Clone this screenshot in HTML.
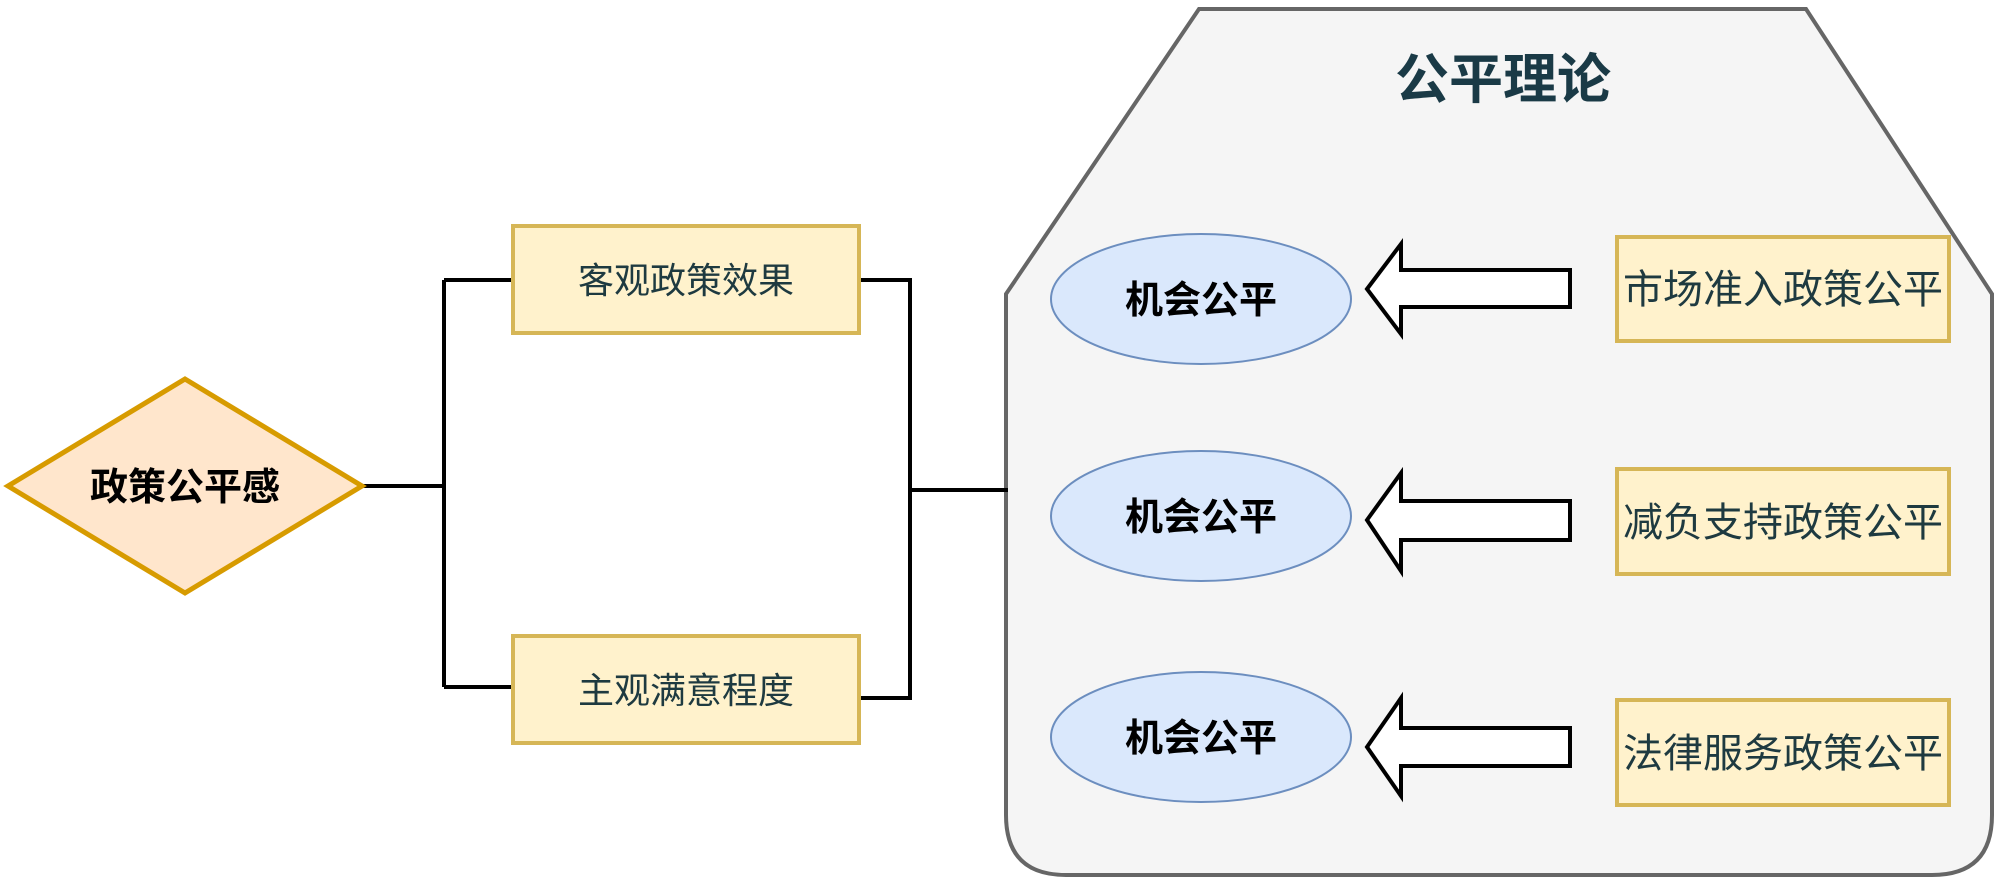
<!DOCTYPE html>
<html><head><meta charset="utf-8"><style>
html,body{margin:0;padding:0;background:#fff;}
svg{display:block;}
text{font-family:"Liberation Sans","Noto Sans CJK SC",sans-serif;}
</style></head><body>
<svg width="2000" height="880" viewBox="0 0 2000 880" xmlns="http://www.w3.org/2000/svg">
<path d="M1199,9 L1806,9 L1992,294 L1992,815 Q1992,875 1932,875 L1066,875 Q1006,875 1006,815 L1006,294 Z" fill="#f5f5f5" stroke="#666" stroke-width="4"/>
<text x="1503" y="98" font-size="54" font-weight="bold" fill="#1a3a46" text-anchor="middle">公平理论</text>
<g fill="none" stroke="#000" stroke-width="4">
<path d="M362,486 L444,486 M444,280 L444,687 M444,280 L513,280 M444,687 L513,687"/>
<path d="M859,280 L910,280 L910,698 L859,698 M910,490 L1008,490"/>
</g>
<polygon points="8,486 185,379 362,486 185,593" fill="#ffe6cc" stroke="#d79b00" stroke-width="5"/>
<text x="185" y="500" font-size="38" font-weight="bold" fill="#000" text-anchor="middle">政策公平感</text>
<rect x="513" y="226" width="346" height="107" fill="#fff2cc" stroke="#d6b656" stroke-width="4"/>
<text x="686" y="293" font-size="36" fill="#1e3a40" text-anchor="middle">客观政策效果</text>
<rect x="513" y="636" width="346" height="107" fill="#fff2cc" stroke="#d6b656" stroke-width="4"/>
<text x="686" y="703" font-size="36" fill="#1e3a40" text-anchor="middle">主观满意程度</text>
<g fill="#dae8fc" stroke="#6c8ebf" stroke-width="2">
<ellipse cx="1201" cy="299" rx="150" ry="65"/>
<ellipse cx="1201" cy="516" rx="150" ry="65"/>
<ellipse cx="1201" cy="737" rx="150" ry="65"/>
</g>
<g font-size="38" font-weight="bold" fill="#000" text-anchor="middle">
<text x="1201" y="313">机会公平</text>
<text x="1201" y="530">机会公平</text>
<text x="1201" y="751">机会公平</text>
</g>
<g fill="#fff" stroke="#000" stroke-width="4" stroke-linejoin="miter">
<polygon points="1367,289 1401,244 1401,270 1570,270 1570,307 1401,307 1401,334"/>
<polygon points="1367,520 1401,473 1401,501 1570,501 1570,540 1401,540 1401,571"/>
<polygon points="1367,747 1401,698 1401,728 1570,728 1570,766 1401,766 1401,796"/>
</g>
<g fill="#fff2cc" stroke="#d6b656" stroke-width="4">
<rect x="1617" y="237" width="332" height="104"/>
<rect x="1617" y="469" width="332" height="105"/>
<rect x="1617" y="700" width="332" height="105"/>
</g>
<g font-size="40" fill="#1e3a40" text-anchor="middle">
<text x="1783" y="303">市场准入政策公平</text>
<text x="1783" y="536">减负支持政策公平</text>
<text x="1783" y="767">法律服务政策公平</text>
</g>
</svg>
</body></html>
